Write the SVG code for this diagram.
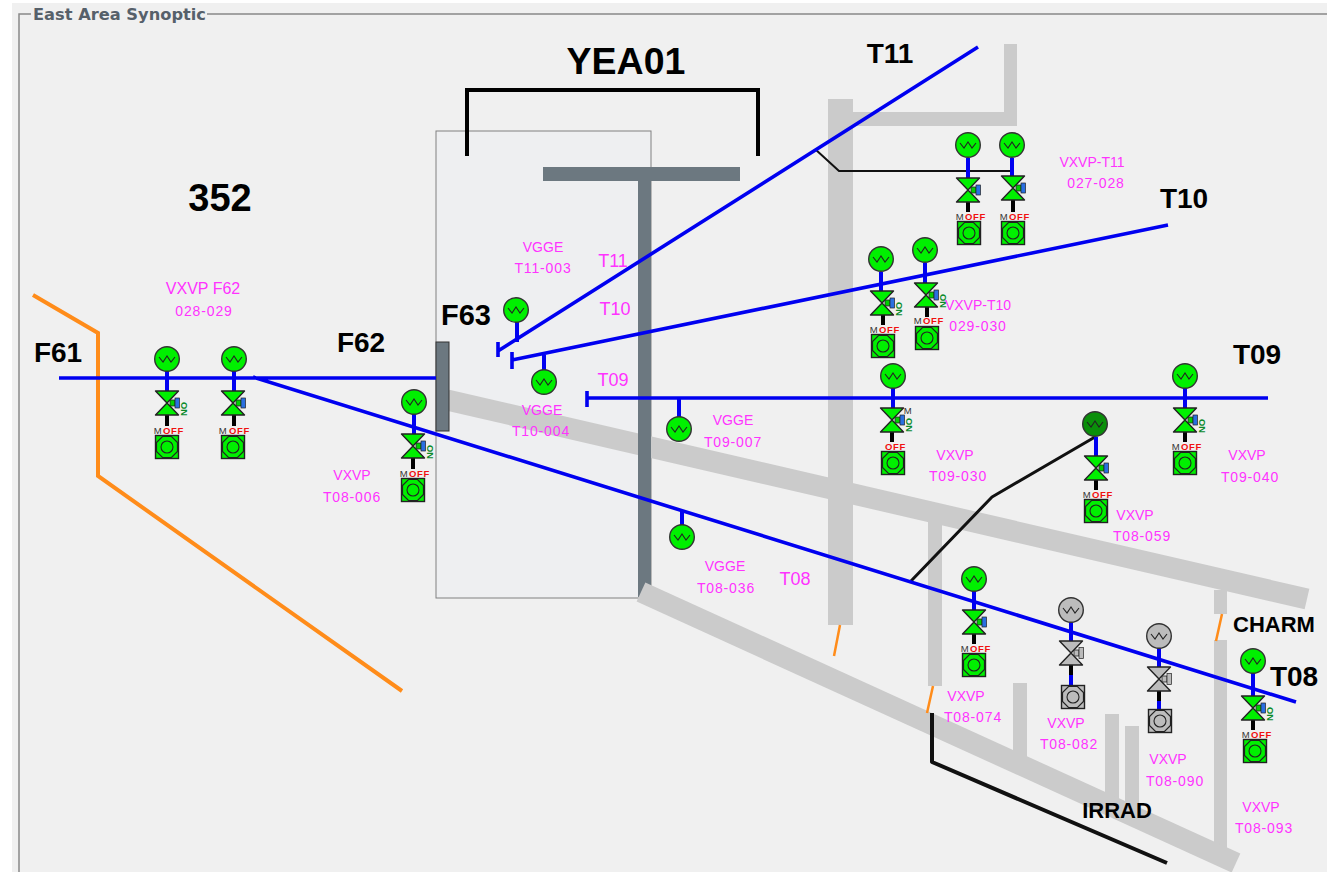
<svg xmlns="http://www.w3.org/2000/svg" width="1327" height="872" viewBox="0 0 1327 872">
<style>
text{font-family:"Liberation Sans",Arial,sans-serif}
.mg{fill:#ff33ff;font-size:14px;text-anchor:middle}
.n{letter-spacing:.85px}
.mgl{fill:#ff33ff;font-size:18px;text-anchor:middle}
.bk{fill:#000;font-weight:bold;font-size:28px;text-anchor:middle}
.bl{stroke:#0000f0;stroke-width:3.6;fill:none}
.st{stroke:#0000f0;stroke-width:4;fill:none}
.sk{stroke:#000;stroke-width:4;fill:none}
.beam{stroke:#cbcbcb;fill:none}
.or{stroke:#ff8c1a;fill:none}
.bar{fill:#cbcbcb}
.dk{fill:#6c7880}
.wire{stroke:#111;fill:none;stroke-linejoin:round}
.on{fill:#00f000}.dark{fill:#0a8f0a}.idle{fill:#bcbcbc}
.m{fill:#333;font-size:9.500px;transform:translateX(-1.200px)}
.off{fill:#f01010;font-size:9.500px;font-weight:bold;letter-spacing:.6px}
.no{fill:#0a8a2a;font-size:9.500px;font-weight:bold}
</style>
<defs>
<g id="gauge"><circle r="12.3" stroke="#333" stroke-width="1.4"/><path d="M-8 -2L-4 3L0 -3L4 3L8 -2" fill="none" stroke="#222" stroke-width="1.1"/></g>
<g id="valve"><path d="M-11.500 -12H11.500L-11.500 12H11.500Z" stroke="#222" stroke-width="1.400" stroke-linejoin="round"/></g>
<g id="actB"><path d="M3 -3H8V3H3Z" fill="#00d000" stroke="#222" stroke-width=".8"/><rect x="8" y="-5" width="4.500" height="10" fill="#2a6fe0" stroke="#222" stroke-width=".7"/></g>
<g id="actG"><path d="M3 -3H8V3H3Z" fill="#bbb" stroke="#222" stroke-width=".8"/><rect x="8" y="-5.500" width="4.500" height="11" fill="#bbb" stroke="#222" stroke-width=".7"/></g>
<g id="pump"><rect x="-11.500" y="-11.500" width="23" height="23" stroke="#222" stroke-width="1.400"/><path d="M-4.500 -10.500H4.500L10.500 -4.500V4.500L4.500 10.500H-4.500L-10.500 4.500V-4.500Z" fill="none" stroke="#222" stroke-width="1.200"/><circle r="6" fill="none" stroke="#222" stroke-width="1.100"/></g>
</defs>
<rect width="1327" height="872" fill="#fff"/>
<rect x="12" y="3" width="1315" height="869" fill="#f0f0f0"/>
<path d="M19 872V14H31M207 14H1327" fill="none" stroke="#888" stroke-width="1.500"/>
<text x="33" y="20" font-size="15" font-weight="bold" fill="#56606a" style="font-family:'DejaVu Sans',sans-serif" textLength="173" lengthAdjust="spacingAndGlyphs">East Area Synoptic</text>

<g id="beamline">
<rect x="436" y="131" width="215" height="467" fill="#eeeff1" stroke="#808080" stroke-width="1"/>
<line class="beam" x1="447" y1="400" x2="1307" y2="599" stroke-width="21"/>
<rect class="bar" x="828" y="99" width="25" height="526"/>
<rect class="bar" x="853" y="112" width="160" height="14"/>
<rect class="bar" x="1004" y="44" width="13" height="82"/>
<rect class="bar" x="928" y="521" width="14" height="165"/>
<rect class="bar" x="1013" y="683" width="14" height="78"/>
<rect class="bar" x="1105" y="714" width="14" height="86"/>
<rect class="bar" x="1125" y="726" width="14" height="85"/>
<rect class="bar" x="1214" y="640" width="13" height="212"/>
<rect class="bar" x="1214" y="590" width="13" height="24"/>
<rect class="dk" x="543" y="167" width="197" height="14"/>
<rect class="dk" x="638" y="181" width="13" height="416"/>
<rect class="dk" x="436" y="342" width="13" height="89" stroke="#333" stroke-width="1"/>
<line class="beam" x1="641" y1="592" x2="1236" y2="863" stroke-width="21"/>
</g>

<g id="connectors">
<path class="or" stroke-width="4" d="M33 295L98 333V476L402 691"/>
<path class="or" stroke-width="2.500" d="M840 625L834 656M933 686L927 713M1222 614L1216 641"/>
<path d="M467 156V90H758V156" fill="none" stroke="#000" stroke-width="4"/>
<path class="wire" stroke-width="2" d="M815 149L839 171H1012"/>
<path class="wire" stroke-width="3" d="M911 581L992 497L1095 437"/>
<path class="wire" stroke-width="4" d="M932 713V762L1167 863"/>
<path class="bl" d="M59 378H436M253 377L1296 702M498 351L978 47M512 360L1168 225M587 398H1268M498 342V357M512 352V369M587 391V407"/>
<path class="st" d="M517 322V342M544 370V355M679 417V398M682 525V510"/>
<path class="st" d="M167 371V392M234 371V392M414 414V435M893 388V409M968 158V179M1012 158V177M881 272V292M925 263V284M1185 388V409M1096 437V457M974 591V611M1071 622V642M1159 648V668M1253 673V697"/>
<path class="sk" d="M167 415V426M234 415V426M413 458V469M892 432V442M968 202V212M1013 200V212M883 315V325M927 307V317M1185 432V442M1096 480V490M974 634V644M1071 665V675M1159 691V701M1253 720V730"/>
<path class="st" d="M1071 675V686M1159 701V710"/>
</g>

<g id="vgge-t11-003" class="on"><use href="#gauge" x="516" y="310"/></g>
<g id="vgge-t10-004" class="on"><use href="#gauge" x="544" y="382"/></g>
<g id="vgge-t09-007" class="on"><use href="#gauge" x="679" y="429"/></g>
<g id="vgge-t08-036" class="on"><use href="#gauge" x="682" y="537"/></g>

<g id="vxvp-f62-028" class="on"><use href="#gauge" x="167" y="359"/><use href="#valve" x="167" y="403"/><use href="#actB" x="167" y="403"/><use href="#pump" x="167" y="447"/><text class="m" x="155" y="434">M</text><text class="off" x="163" y="434">OFF</text><text class="no" transform="translate(187 416) rotate(-90)">NO</text></g>
<g id="vxvp-f62-029" class="on"><use href="#gauge" x="234" y="359"/><use href="#valve" x="233" y="403"/><use href="#actB" x="233" y="403"/><use href="#pump" x="233" y="447"/><text class="m" x="220" y="434">M</text><text class="off" x="229" y="434">OFF</text></g>
<g id="vxvp-t08-006" class="on"><use href="#gauge" x="414" y="402"/><use href="#valve" x="413" y="446"/><use href="#actB" x="413" y="446"/><use href="#pump" x="413" y="490"/><text class="m" x="401" y="477">M</text><text class="off" x="409" y="477">OFF</text><text class="no" transform="translate(433 459) rotate(-90)">NO</text></g>
<g id="vxvp-t09-030" class="on"><use href="#gauge" x="893" y="376"/><use href="#valve" x="892" y="420"/><use href="#actB" x="892" y="420"/><use href="#pump" x="893" y="463"/><text class="m" x="905" y="414">M</text><text class="off" x="885" y="450">OFF</text><text class="no" transform="translate(912 432) rotate(-90)">NO</text></g>
<g id="vxvp-t11-027" class="on"><use href="#gauge" x="968" y="145"/><use href="#valve" x="968" y="190"/><use href="#actB" x="968" y="190"/><use href="#pump" x="969" y="233"/><text class="m" x="957" y="220">M</text><text class="off" x="965" y="220">OFF</text></g>
<g id="vxvp-t11-028" class="on"><use href="#gauge" x="1012" y="145"/><use href="#valve" x="1013" y="188"/><use href="#actB" x="1013" y="188"/><use href="#pump" x="1013" y="233"/><text class="m" x="1001" y="220">M</text><text class="off" x="1009" y="220">OFF</text></g>
<g id="vxvp-t10-029" class="on"><use href="#gauge" x="881" y="259"/><use href="#valve" x="882" y="303"/><use href="#actB" x="882" y="303"/><use href="#pump" x="883" y="346"/><text class="m" x="871" y="333">M</text><text class="off" x="879" y="333">OFF</text><text class="no" transform="translate(902 316) rotate(-90)">NO</text></g>
<g id="vxvp-t10-030" class="on"><use href="#gauge" x="925" y="250"/><use href="#valve" x="926" y="295"/><use href="#actB" x="926" y="295"/><use href="#pump" x="927" y="338"/><text class="m" x="915" y="324">M</text><text class="off" x="923" y="324">OFF</text><text class="no" transform="translate(946 308) rotate(-90)">NO</text></g>
<g id="vxvp-t09-040" class="on"><use href="#gauge" x="1185" y="376"/><use href="#valve" x="1185" y="420"/><use href="#actB" x="1185" y="420"/><use href="#pump" x="1185" y="463"/><text class="m" x="1173" y="450">M</text><text class="off" x="1181" y="450">OFF</text><text class="no" transform="translate(1205 433) rotate(-90)">NO</text></g>
<g id="vxvp-t08-059"><use href="#gauge" x="1095" y="424" class="dark"/><g class="on"><use href="#valve" x="1096" y="468"/><use href="#actB" x="1096" y="468"/><use href="#pump" x="1096" y="511"/></g><text class="m" x="1084" y="498">M</text><text class="off" x="1092" y="498">OFF</text></g>
<g id="vxvp-t08-074" class="on"><use href="#gauge" x="974" y="579"/><use href="#valve" x="974" y="622"/><use href="#actB" x="974" y="622"/><use href="#pump" x="974" y="665"/><text class="m" x="962" y="652">M</text><text class="off" x="970" y="652">OFF</text></g>
<g id="vxvp-t08-082" class="idle"><use href="#gauge" x="1071" y="610"/><use href="#valve" x="1071" y="653"/><use href="#actG" x="1071" y="653"/><use href="#pump" x="1073" y="697"/></g>
<g id="vxvp-t08-090" class="idle"><use href="#gauge" x="1159" y="636"/><use href="#valve" x="1159" y="679"/><use href="#actG" x="1159" y="679"/><use href="#pump" x="1160" y="721"/></g>
<g id="vxvp-t08-093" class="on"><use href="#gauge" x="1253" y="661"/><use href="#valve" x="1253" y="708"/><use href="#actB" x="1253" y="708"/><use href="#pump" x="1255" y="751"/><text class="m" x="1243" y="738">M</text><text class="off" x="1251" y="738">OFF</text><text class="no" transform="translate(1273 721) rotate(-90)">NO</text></g>

<g id="labels">
<text class="bk" x="220" y="211" style="font-size:38px">352</text>
<text class="bk" x="626" y="74" style="font-size:37.500px">YEA01</text>
<text class="bk" x="890" y="63">T11</text>
<text class="bk" x="1184" y="208">T10</text>
<text class="bk" x="1257" y="364">T09</text>
<text class="bk" x="1294" y="686">T08</text>
<text class="bk" x="58" y="362">F61</text>
<text class="bk" x="361" y="352">F62</text>
<text class="bk" x="466" y="325" style="font-size:29px">F63</text>
<text class="bk" x="1274" y="632" style="font-size:22px">CHARM</text>
<text class="bk" x="1117" y="818" style="font-size:22px">IRRAD</text>
<text class="mgl" x="613" y="267">T11</text>
<text class="mgl" x="615" y="315">T10</text>
<text class="mgl" x="613" y="386">T09</text>
<text class="mgl" x="795" y="585">T08</text>
<text class="mg" x="203" y="294" style="font-size:16px">VXVP F62</text>
<text class="mg n" x="204" y="316">028-029</text>
<text class="mg" x="543" y="252">VGGE</text>
<text class="mg n" x="543" y="273">T11-003</text>
<text class="mg" x="542" y="415">VGGE</text>
<text class="mg n" x="541" y="436">T10-004</text>
<text class="mg" x="733" y="425">VGGE</text>
<text class="mg n" x="733" y="447">T09-007</text>
<text class="mg" x="725" y="571">VGGE</text>
<text class="mg n" x="726" y="593">T08-036</text>
<text class="mg" x="352" y="480">VXVP</text>
<text class="mg n" x="352" y="502">T08-006</text>
<text class="mg" x="1092" y="167">VXVP-T11</text>
<text class="mg n" x="1096" y="188">027-028</text>
<text class="mg" x="978" y="310">VXVP-T10</text>
<text class="mg n" x="978" y="331">029-030</text>
<text class="mg" x="955" y="460">VXVP</text>
<text class="mg n" x="958" y="481">T09-030</text>
<text class="mg" x="1247" y="460">VXVP</text>
<text class="mg n" x="1250" y="482">T09-040</text>
<text class="mg" x="1135" y="520">VXVP</text>
<text class="mg n" x="1142" y="541">T08-059</text>
<text class="mg" x="966" y="701">VXVP</text>
<text class="mg n" x="973" y="722">T08-074</text>
<text class="mg" x="1066" y="728">VXVP</text>
<text class="mg n" x="1069" y="749">T08-082</text>
<text class="mg" x="1168" y="764">VXVP</text>
<text class="mg n" x="1175" y="786">T08-090</text>
<text class="mg" x="1261" y="812">VXVP</text>
<text class="mg n" x="1264" y="833">T08-093</text>
</g>
</svg>
